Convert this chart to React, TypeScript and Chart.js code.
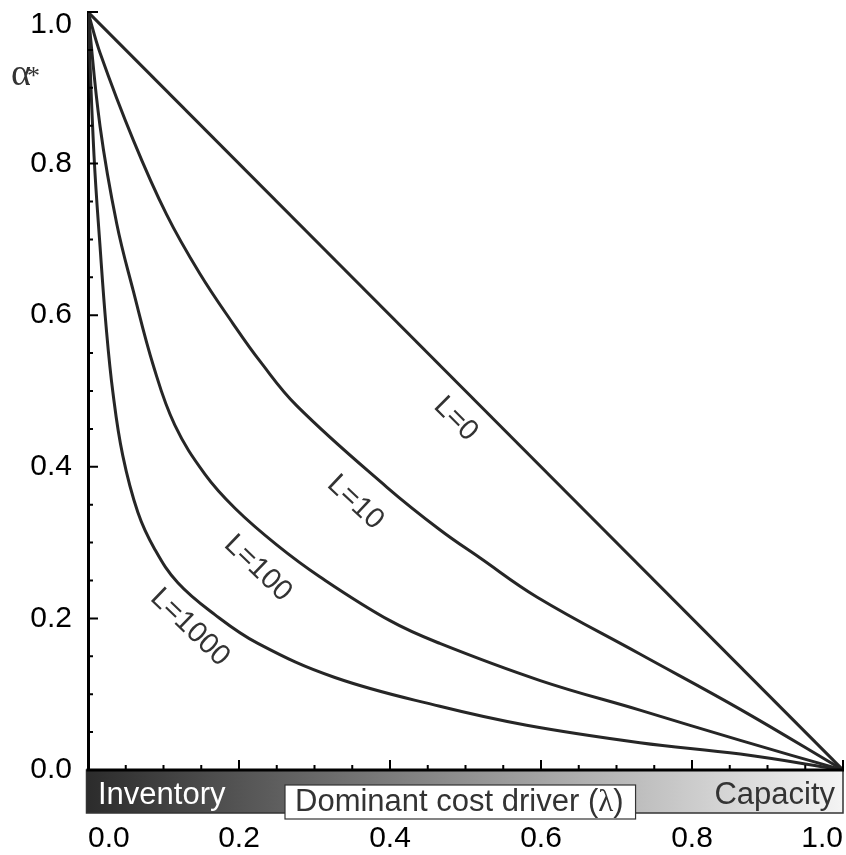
import React, { useEffect, useRef } from 'react';
import { Chart, registerables } from 'chart.js';

Chart.register(...registerables);

// ---- data ----
const lambdaL0 = [0, 1];
const alphaL0 = [1, 0];

const lambdaL10 = [0, 0.016, 0.06, 0.104, 0.148, 0.192, 0.228, 0.277, 0.396, 0.466, 0.519, 0.595, 0.731, 0.864, 1.0];
const alphaL10 = [1, 0.946, 0.831, 0.733, 0.655, 0.589, 0.539, 0.48, 0.373, 0.317, 0.28, 0.228, 0.153, 0.08, 0];

const lambdaL100 = [0, 0.016, 0.038, 0.06, 0.087, 0.115, 0.155, 0.195, 0.25, 0.307, 0.4, 0.466, 0.599, 0.731, 0.864, 1.0];
const alphaL100 = [1, 0.849, 0.721, 0.632, 0.532, 0.455, 0.39, 0.345, 0.297, 0.255, 0.197, 0.167, 0.118, 0.079, 0.039, 0];

const lambdaL1000 = [0, 0.008, 0.016, 0.024, 0.033, 0.046, 0.066, 0.088, 0.119, 0.168, 0.225, 0.327, 0.466, 0.581, 0.731, 0.864, 1.0];
const alphaL1000 = [1, 0.81, 0.69, 0.585, 0.498, 0.415, 0.34, 0.292, 0.247, 0.205, 0.167, 0.122, 0.084, 0.059, 0.036, 0.021, 0];

const curveNames = ['L=0', 'L=10', 'L=100', 'L=1000'];
const labelLambda = [0.487, 0.354, 0.225, 0.135];
const labelAlpha = [0.463, 0.353, 0.266, 0.188];
const labelAngleDeg = [45, 43, 44, 44];

const majorTicks = [0, 0.2, 0.4, 0.6, 0.8, 1.0];
const tickLabels = ['0.0', '0.2', '0.4', '0.6', '0.8', '1.0'];

const xTitle = 'Dominant cost driver (';
const xTitleSymbol = 'λ';
const leftDriver = 'Inventory';
const rightDriver = 'Capacity';
const yTitle = 'α';

const SANS = "'Liberation Sans', Arial, Helvetica, sans-serif";
const SERIF = "'Liberation Serif', 'DejaVu Serif', serif";
const LINE = '#262626';
const TEXT = '#333333';

const toPts = (xs: number[], ys: number[]) => xs.map((v, i) => ({ x: v, y: ys[i] }));

const decorPlugin = {
  id: 'decor',
  afterDraw(chart: any) {
    const { ctx, chartArea: ca, scales } = chart;
    const xs = scales.x;
    const ys = scales.y;
    ctx.save();

    // gradient driver bar
    const barTop = ca.bottom;
    const barH = 43;
    const g = ctx.createLinearGradient(ca.left, 0, ca.right, 0);
    g.addColorStop(0, '#2c2c2c');
    g.addColorStop(1, '#f4f4f4');
    ctx.fillStyle = g;
    ctx.fillRect(ca.left - 1.5, barTop, ca.right - ca.left + 1.5, barH);
    ctx.strokeStyle = '#333';
    ctx.lineWidth = 1.5;
    ctx.strokeRect(ca.left - 1.5, barTop, ca.right - ca.left + 1.5, barH);

    // bottom axis line
    ctx.strokeStyle = '#000';
    ctx.lineWidth = 3;
    ctx.beginPath();
    ctx.moveTo(ca.left - 1.5, ca.bottom);
    ctx.lineTo(ca.right + 1, ca.bottom);
    ctx.stroke();

    // ticks (inward)
    ctx.lineWidth = 2;
    ctx.strokeStyle = '#000';
    for (let i = 0; i <= 20; i++) {
      const v = i / 20;
      const len = i % 4 === 0 ? 10 : 5;
      const px = xs.getPixelForValue(v);
      const py = ys.getPixelForValue(v);
      ctx.beginPath();
      ctx.moveTo(px, ca.bottom);
      ctx.lineTo(px, ca.bottom - len);
      ctx.moveTo(ca.left, py);
      ctx.lineTo(ca.left + len, py);
      ctx.stroke();
    }

    // tick labels
    ctx.fillStyle = '#000';
    ctx.font = `30px ${SANS}`;
    ctx.textBaseline = 'middle';
    ctx.textAlign = 'right';
    majorTicks.forEach((v, i) => {
      const py = Math.max(ys.getPixelForValue(v), 25);
      ctx.fillText(tickLabels[i], 72, py);
    });
    majorTicks.forEach((v, i) => {
      const px = xs.getPixelForValue(v);
      const w = ctx.measureText(tickLabels[i]).width;
      let cx = px;
      if (cx - w / 2 < ca.left) cx = ca.left + w / 2;
      if (cx + w / 2 > ca.right) cx = ca.right - w / 2;
      ctx.textAlign = 'center';
      ctx.fillText(tickLabels[i], cx, 839);
    });

    // driver labels
    ctx.textBaseline = 'alphabetic';
    ctx.font = `31px ${SANS}`;
    ctx.textAlign = 'left';
    ctx.fillStyle = '#ffffff';
    ctx.fillText(leftDriver, ca.left + 10, 804);
    ctx.textAlign = 'right';
    ctx.fillStyle = TEXT;
    ctx.fillText(rightDriver, ca.right - 8, 804);

    // title box
    const fs = 31;
    ctx.font = `${fs}px ${SANS}`;
    const t1 = ctx.measureText(xTitle).width;
    ctx.font = `${fs}px ${SERIF}`;
    const t2 = ctx.measureText(xTitleSymbol).width;
    ctx.font = `${fs}px ${SANS}`;
    const t3 = ctx.measureText(')').width;
    const boxL = 285;
    const boxT = 785;
    const boxW = 10 + t1 + t2 + t3 + 12;
    ctx.fillStyle = '#ffffff';
    ctx.fillRect(boxL, boxT, boxW, 34);
    ctx.strokeStyle = '#333';
    ctx.lineWidth = 1.2;
    ctx.strokeRect(boxL, boxT, boxW, 34);
    ctx.fillStyle = TEXT;
    ctx.textAlign = 'left';
    let tx = boxL + 10;
    ctx.fillText(xTitle, tx, 811);
    tx += t1;
    ctx.font = `${fs}px ${SERIF}`;
    ctx.fillText(xTitleSymbol, tx, 811);
    tx += t2;
    ctx.font = `${fs}px ${SANS}`;
    ctx.fillText(')', tx, 811);

    // y title
    ctx.fillStyle = TEXT;
    ctx.font = `38px ${SERIF}`;
    ctx.textAlign = 'left';
    ctx.fillText(yTitle, 11, 85);
    ctx.font = `26px ${SERIF}`;
    ctx.fillText('*', 27, 84);

    // curve labels
    ctx.font = `29px ${SANS}`;
    ctx.fillStyle = TEXT;
    ctx.textAlign = 'center';
    ctx.textBaseline = 'middle';
    curveNames.forEach((name, i) => {
      ctx.save();
      ctx.translate(xs.getPixelForValue(labelLambda[i]), ys.getPixelForValue(labelAlpha[i]));
      ctx.rotate((labelAngleDeg[i] * Math.PI) / 180);
      ctx.fillText(name, 0, 0);
      ctx.restore();
    });

    ctx.restore();
  },
};

export default function App() {
  const ref = useRef<HTMLCanvasElement | null>(null);
  useEffect(() => {
    document.body.style.margin = '0';
    if (!ref.current) return;
    const ds = (xs: number[], ys: number[]) => ({
      data: toPts(xs, ys),
      borderColor: LINE,
      borderWidth: 3,
      pointRadius: 0,
      fill: false,
      tension: 0.4,
    });
    const chart = new Chart(ref.current, {
      type: 'line',
      data: {
        datasets: [
          ds(lambdaL0, alphaL0),
          ds(lambdaL10, alphaL10),
          ds(lambdaL100, alphaL100),
          ds(lambdaL1000, alphaL1000),
        ],
      },
      options: {
        responsive: false,
        animation: false,
        events: [],
        layout: { padding: { top: 12, right: 3, left: 0, bottom: 0 } },
        plugins: { legend: { display: false }, tooltip: { enabled: false } },
        scales: {
          x: {
            type: 'linear',
            min: 0,
            max: 1,
            grid: { display: false },
            border: { display: false },
            ticks: { display: false },
            afterFit: (s: any) => { s.height = 85; },
          },
          y: {
            type: 'linear',
            min: 0,
            max: 1,
            grid: { display: false },
            border: { display: true, width: 3, color: '#000' },
            ticks: { display: false },
            afterFit: (s: any) => { s.width = 88; },
          },
        },
      },
      plugins: [decorPlugin],
    });
    return () => chart.destroy();
  }, []);
  return (
    <div style={{ width: 846, height: 855 }}>
      <canvas ref={ref} width={846} height={855} />
    </div>
  );
}
